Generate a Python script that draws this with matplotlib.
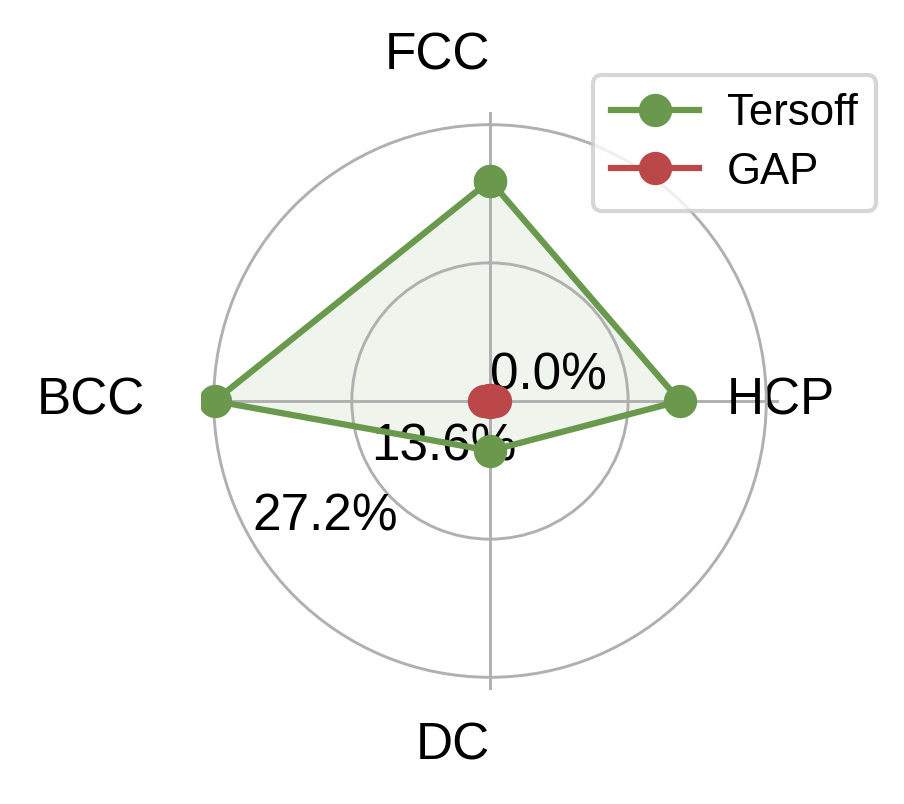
import numpy as np
import matplotlib.pyplot as plt

plt.rcParams['font.family'] = ['Liberation Sans', 'DejaVu Sans']

categories = ['FCC', 'HCP', 'DC', 'BCC']
tersoff = [21.7, 18.7, 4.9, 27.1]
gap = [0.1, 0.5, 0.1, 0.6]
rticks = [0.0, 13.6, 27.2]

green = '#6a994e'
red = '#bc4749'

angles = np.linspace(0, 2 * np.pi, len(categories), endpoint=False).tolist()
angles_c = angles + angles[:1]

fig = plt.figure(figsize=(904 / 300, 804 / 300), dpi=300)
ax = fig.add_axes([0.2223, 0.1418, 0.6394, 0.7189], projection='polar')
ax.set_theta_offset(np.pi / 2)
ax.set_theta_direction(-1)

t = tersoff + tersoff[:1]
g = gap + gap[:1]
ax.plot(angles_c, t, color=green, lw=1.5, marker='o', ms=7, label='Tersoff')
ax.fill(angles_c, t, color=green, alpha=0.1)
ax.plot(angles_c, g, color=red, lw=1.5, marker='o', ms=7, label='GAP')

ax.set_xticks(angles)
ax.set_xticklabels(categories, fontsize=12.3, ha='right')
ax.tick_params(axis='x', pad=3)
ax.set_yticks(rticks)
ax.set_yticklabels([f'{v:.1f}%' for v in rticks], fontsize=12.3)
ax.set_rlabel_position(239.5)
ax.set_ylim(0, 28.45)
ax.spines['polar'].set_visible(False)
ax.grid(color='#b0b0b0', lw=0.7)

fig.legend(loc='upper right', bbox_to_anchor=(0.969, 0.907), fontsize=10.5,
           borderaxespad=0, fancybox=True, labelspacing=0.4, borderpad=0.42,
           handletextpad=0.64)

fig.savefig('out.png', dpi=300)
